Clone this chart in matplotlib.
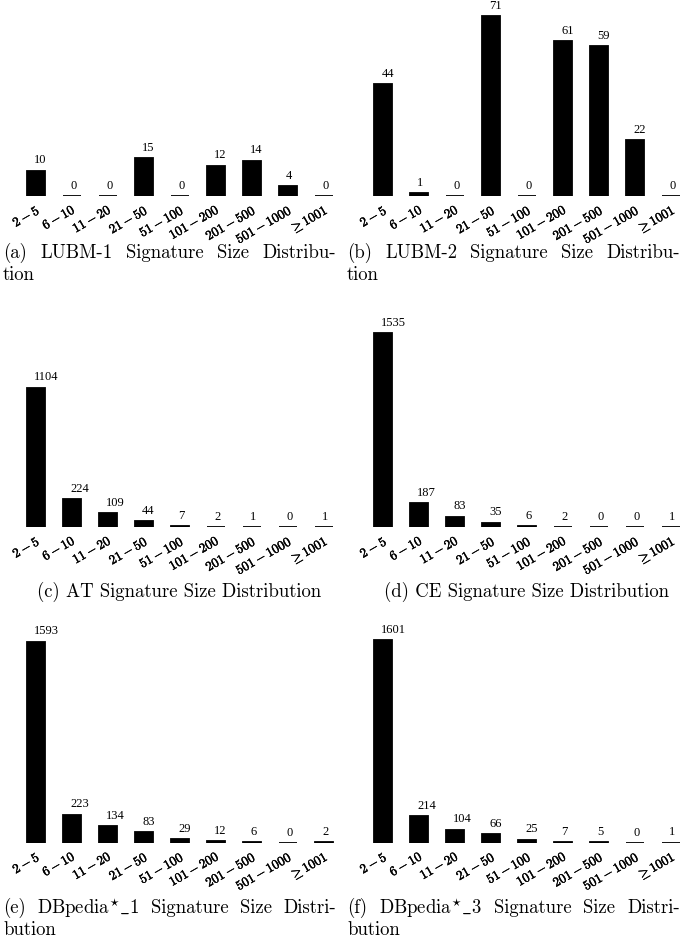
import matplotlib
matplotlib.use("Agg")
import matplotlib.pyplot as plt
import matplotlib.patheffects as pe
import matplotlib.transforms as mtransforms

plt.rcParams['mathtext.fontset'] = 'cm'
plt.rcParams['axes.formatter.use_mathtext'] = True

bins = ['2-5', '6-10', '11-20', '21-50', '51-100', '101-200',
        '201-500', '501-1000', '>=1001']
tick_labels = [r'$\mathbf{2-5}$', r'$\mathbf{6-10}$', r'$\mathbf{11-20}$',
               r'$\mathbf{21-50}$', r'$\mathbf{51-100}$', r'$\mathbf{101-200}$',
               r'$\mathbf{201-500}$', r'$\mathbf{501-1000}$', r'$\geq\mathbf{1001}$']

lubm1 = [10, 0, 0, 15, 0, 12, 14, 4, 0]
lubm2 = [44, 1, 0, 71, 0, 61, 59, 22, 0]
at = [1104, 224, 109, 44, 7, 2, 1, 0, 1]
ce = [1535, 187, 83, 35, 6, 2, 0, 0, 1]
dbp1 = [1593, 223, 134, 83, 29, 12, 6, 0, 2]
dbp3 = [1601, 214, 104, 66, 25, 7, 5, 0, 1]

captions = [
    ["(a) LUBM-1 Signature Size Distribu-", "tion"],
    ["(b) LUBM-2 Signature Size Distribu-", "tion"],
    ["(c) AT Signature Size Distribution"],
    ["(d) CE Signature Size Distribution"],
    [r"(e) DBpedia$^{\star}\_$1 Signature Size Distri-", "bution"],
    [r"(f) DBpedia$^{\star}\_$3 Signature Size Distri-", "bution"],
]

W, H = 681, 943
fig = plt.figure(figsize=(W / 100, H / 100), dpi=100)
renderer = fig.canvas.get_renderer()

# pixel layout (from top-left)
col_x0 = [35.5, 382.8]          # centre of first bar
step = 36.0                     # px between bars
rows = [(196, 2.535, 75), (527, 0.1263, 1700), (842.7, 0.1263, 1700)]
cap_y = [(253, 275), (592,), (908, 930)]
cap_fs = 13.5


def justified(x0, x1, y, line):
    # spread the words of a caption line over [x0, x1] like LaTeX does
    words = line.split(' ')
    texts = [fig.text(0, 1 - y / H, w, ha='left', va='center',
                      fontsize=cap_fs, family='cmr10') for w in words]
    widths = [t.get_window_extent(renderer).width for t in texts]
    gap = (x1 - x0 - sum(widths)) / (len(words) - 1)
    x = x0
    for t, w in zip(texts, widths):
        t.set_x(x / W)
        x += w + gap


data = [lubm1, lubm2, at, ce, dbp1, dbp3]
shift = mtransforms.ScaledTranslation(3 / 100, 0, fig.dpi_scale_trans)

for k, vals in enumerate(data):
    r, c = divmod(k, 2)
    base, scale, ymax = rows[r]
    left = col_x0[c] - 0.6 * step
    width = 9.2 * step
    height = ymax * scale
    ax = fig.add_axes([left / W, 1 - base / H, width / W, height / H])
    x = range(len(vals))
    ax.bar(x, vals, width=0.5, color='black', edgecolor='black', linewidth=1.3)
    for i, v in enumerate(vals):
        ax.annotate(str(v), (i, v), xytext=(-1, 3), textcoords='offset points',
                    ha='left', va='bottom', fontsize=9, family='Liberation Serif')
    ax.set_xlim(-0.6, 8.6)
    ax.set_ylim(0, ymax)
    ax.set_yticks([])
    ax.set_xticks(list(x))
    ax.set_xticklabels(tick_labels, rotation=30, ha='right',
                       rotation_mode='anchor', fontsize=9.5)
    for t in ax.get_xticklabels():
        t.set_path_effects([pe.withStroke(linewidth=0.3, foreground='black')])
        t.set_transform(t.get_transform() + shift)
    ax.tick_params(axis='x', length=0, pad=5)
    for s in ax.spines.values():
        s.set_visible(False)
    ax.patch.set_visible(False)

    cx0 = 3 if c == 0 else 347
    lines = captions[k]
    if len(lines) == 1:
        fig.text((col_x0[c] + 4 * step) / W, 1 - cap_y[r][0] / H, lines[0],
                 ha='center', va='center', fontsize=cap_fs, family='cmr10')
    else:
        justified(cx0, cx0 + 333, cap_y[r][0], lines[0])
        fig.text(cx0 / W, 1 - cap_y[r][1] / H, lines[1], ha='left', va='center',
                 fontsize=cap_fs, family='cmr10')

fig.savefig('out.png', dpi=100)
